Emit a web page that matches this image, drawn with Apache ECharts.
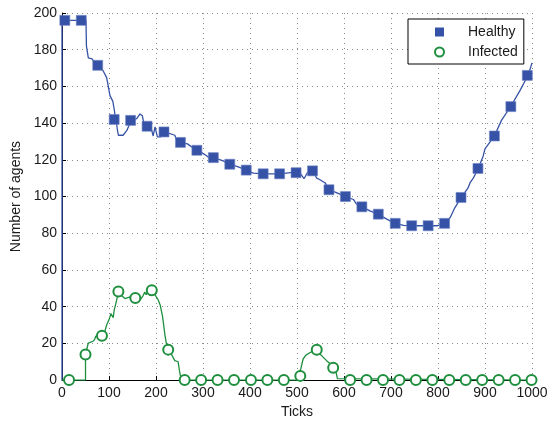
<!DOCTYPE html>
<html>
<head>
<meta charset="utf-8">
<script src="https://cdn.jsdelivr.net/npm/echarts@6/dist/echarts.min.js"></script>
<style>
html,body{margin:0;padding:0;background:#fff;}
#chart{width:556px;height:424px;}
</style>
</head>
<body>
<div id="chart"></div>
<script>
// Healthy population trace (tick, value)
var healthyTicks = [0,0,51,52,56,64,70,78,88,95,99,102,108,111,113,115,118,120,130,138,147,159,166,171,175,182,191,194,198,203,210,219,240,245,253,267,276,289,303,314,323,343,357,372,393,407,430,464,499,509,515,522,533,542,548,560,569,585,604,620,627,639,655,673,691,708,727,744,781,799,815,826,836,850,864,868,875,886,896,900,920,935,955,974,992,1000];
var healthyValues = [0,196,196,182,175.5,175,173,171.5,168.3,164.8,159.4,155,152,147.7,144,142,136,133.4,133.4,136,141.5,142.4,145,144,138.8,138.3,136,133,137.9,132.5,132.5,135.2,133.4,130,129.5,128.7,127,125.2,123,121,121.2,119.4,117.6,116.4,114.4,112.8,112.4,112.4,113.5,112,109.7,113,114.4,110,109.3,107.4,103.7,102,100,98.4,95.8,94.4,92.2,90.4,87.7,85.4,84.3,84.1,84.1,84.1,85.4,88.6,94,99.7,104.7,107.4,110,115.5,122,126,133,141.5,149.2,157.6,166.2,172.8];

// Infected population trace (tick, value)
var infectedTicks = [0,50,50,56,60,67,70,72,77,84,91,95,101,104,108,109,111,116,120,127,134,145,157,166,173,176,179,184,187,191,194,200,205,209,214,219,222,228,233,240,247,250,252,255,500,503,508,513,519,528,535,541,549,556,563,570,577,583,586,588,1000];
var infectedValues = [0,0,14,20.2,21,21.3,22.5,24,24,24.2,26.4,30,33.5,36.2,36.5,34,38,43.3,47.8,46,44.4,45.3,44.9,43.5,46.2,48,46.5,48.7,46,49.6,48.7,45.6,43.5,40.8,34.6,24.6,20,16.6,14,10.6,10,5,2.3,0,0,3.4,6,11.5,13.6,15,16,16.2,14.2,12.4,10.6,9,6.7,4.3,0.8,0,0];

// Marker positions
var healthyMarkTicks = [6,41,76,111,146,181,217,252,287,322,357,392,428,463,498,533,568,603,638,673,709,744,779,814,849,885,920,955,990];
var healthyMarkValues = [196,196,171.5,142,141.5,138.3,135.2,129.5,125.2,121.2,117.6,114.4,112.4,112.4,113,114,103.7,100,94.4,90.4,85.4,84.1,84.1,85.4,99.5,115.3,133,149,166];
var infectedMarkTicks = [15,50,85,120,156,191,226,261,296,331,366,402,437,472,507,542,577,613,648,683,718,753,788,824,859,894,929,964,999];
var infectedMarkValues = [0,14,24.2,48.3,44.7,49,16.6,0,0,0,0,0,0,0,2.3,16.5,6.7,0,0,0,0,0,0,0,0,0,0,0,0];

var xTicks = [0,100,200,300,400,500,600,700,800,900,1000];
var yTicks = [0,20,40,60,80,100,120,140,160,180,200];

function pairs(xs, ys){ return xs.map(function(x,i){ return [x, ys[i]]; }); }

var BLUE = '#3652a6';
var GREEN = '#1e8f3e';
var FONT = "'Liberation Sans', Arial, sans-serif";

var chart = echarts.init(document.getElementById('chart'), null, {renderer:'canvas'});
chart.setOption({
  animation: false,
  backgroundColor: '#fff',
  textStyle: {fontFamily: FONT},
  grid: {left: 62, right: 24, top: 13, bottom: 39, containLabel: false},
  xAxis: {
    type: 'value', min: xTicks[0], max: xTicks[xTicks.length-1], interval: 100,
    name: 'Ticks', nameLocation: 'middle', nameGap: 20,
    nameTextStyle: {fontSize: 14, color: '#1a1a1a', fontFamily: FONT},
    axisLine: {show: true, lineStyle: {color: '#000', width: 1}},
    axisTick: {show: true, inside: true, length: 4, lineStyle: {color: '#000'}},
    axisLabel: {fontSize: 14, color: '#1a1a1a', margin: 6, fontFamily: FONT,
      formatter: function(v){ return String(v); }},
    splitLine: {show: true, lineStyle: {color: '#8a8a8a', type: [1,4], width: 1}}
  },
  yAxis: {
    type: 'value', min: yTicks[0], max: yTicks[yTicks.length-1], interval: 20,
    name: 'Number of agents', nameLocation: 'middle', nameGap: 31,
    nameTextStyle: {fontSize: 14, color: '#1a1a1a', fontFamily: FONT},
    axisLine: {show: true, lineStyle: {color: '#000', width: 1}},
    axisTick: {show: true, inside: true, length: 4, lineStyle: {color: '#000'}},
    axisLabel: {fontSize: 14, color: '#1a1a1a', margin: 5, fontFamily: FONT,
      formatter: function(v){ return String(v); }},
    splitLine: {show: true, lineStyle: {color: '#8a8a8a', type: [1,4], width: 1}}
  },
  legend: {
    orient: 'vertical', left: 408, top: 19,
    data: [{name: 'Healthy', icon: 'rect', itemStyle: {color: BLUE, borderWidth: 0}},
           {name: 'Infected', icon: 'emptyCircle'}],
    itemWidth: 9, itemHeight: 9, itemGap: 6,
    padding: [6, 6, 5, 26],
    backgroundColor: '#fff', borderColor: '#000', borderWidth: 1, borderRadius: 0,
    textStyle: {fontSize: 14, color: '#1a1a1a', fontFamily: FONT, lineHeight: 14, padding: [0,0,0,19]}
  },
  series: [
    {name: 'HealthyTrace', type: 'line', data: pairs(healthyTicks, healthyValues), showSymbol: false,
     lineStyle: {color: BLUE, width: 1.3}, itemStyle: {color: BLUE}, z: 3, silent: true},
    {name: 'InfectedTrace', type: 'line', data: pairs(infectedTicks, infectedValues), showSymbol: false,
     lineStyle: {color: GREEN, width: 1.3}, itemStyle: {color: GREEN}, z: 3, silent: true},
    {name: 'Healthy', type: 'scatter', data: pairs(healthyMarkTicks, healthyMarkValues), symbol: 'rect', symbolSize: 10,
     itemStyle: {color: BLUE, borderColor: '#6f84c4', borderWidth: 0.6, opacity: 1}, z: 4},
    {name: 'Infected', type: 'scatter', data: pairs(infectedMarkTicks, infectedMarkValues), symbol: 'emptyCircle', symbolSize: 10,
     itemStyle: {color: GREEN, borderColor: GREEN, borderWidth: 1.0, opacity: 1}, z: 4}
  ]
});
</script>
</body>
</html>
